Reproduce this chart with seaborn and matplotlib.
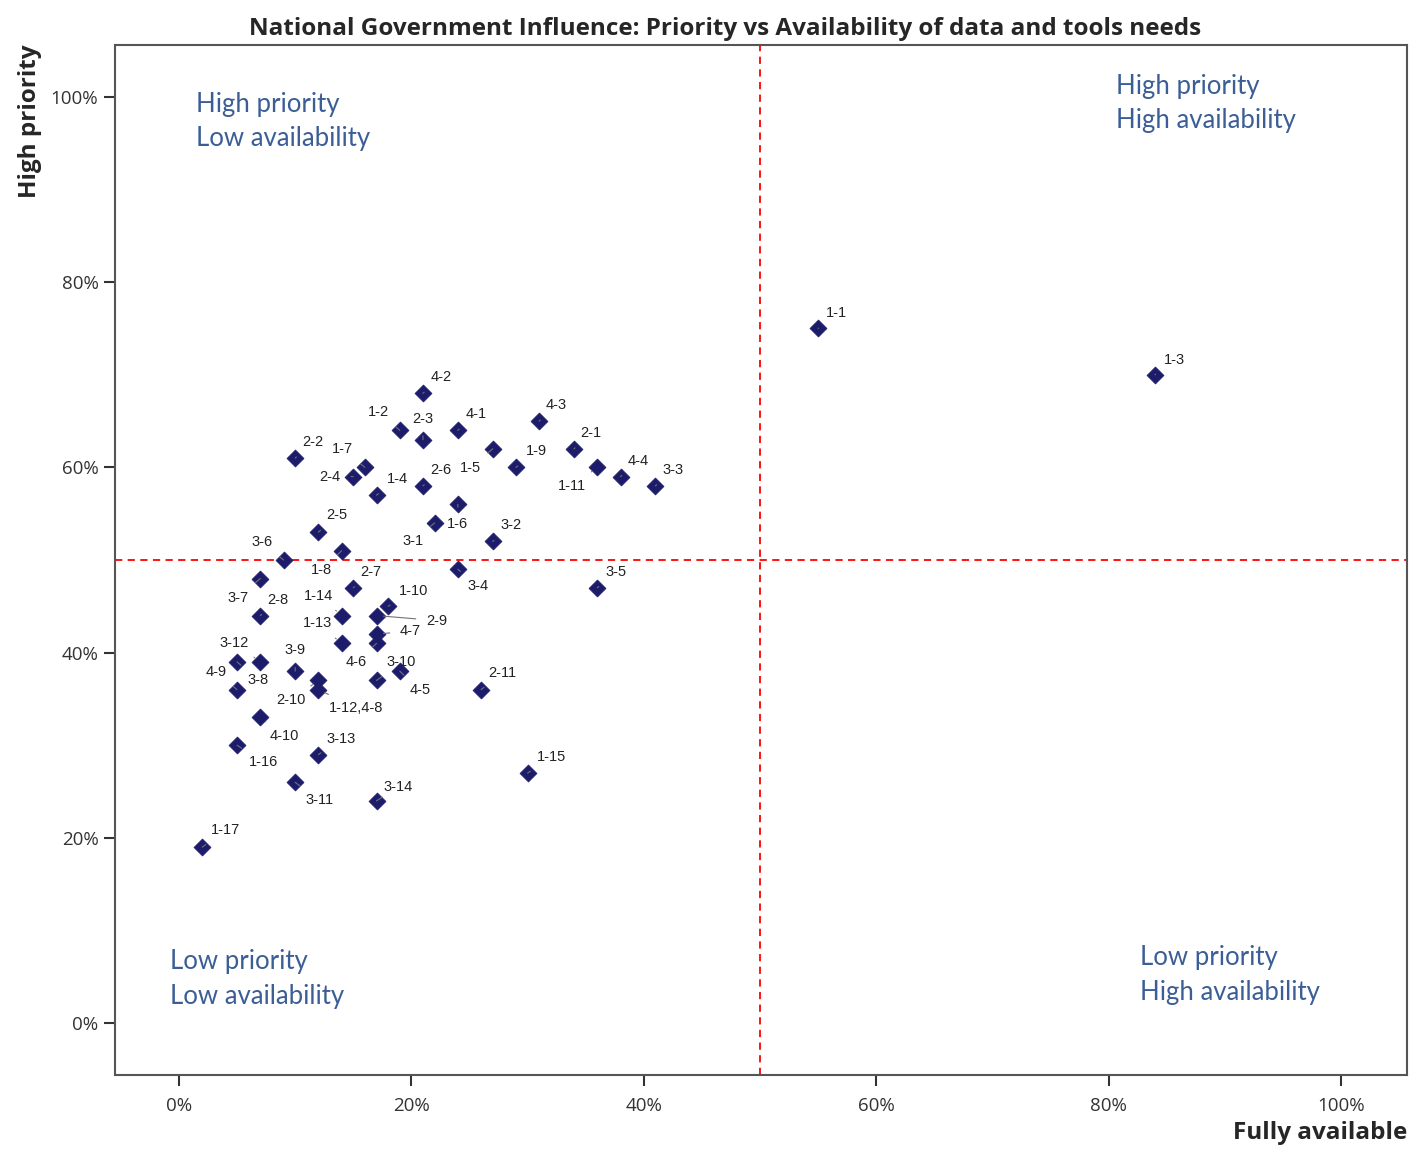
import numpy as np
import pandas as pd
import matplotlib
matplotlib.use("Agg")
import matplotlib.pyplot as plt
import seaborn as sns

# data (percent)
labels = ["1-1", "1-3", "4-2", "1-2", "2-3", "4-1", "4-3", "2-1", "1-5", "1-9",
          "1-11", "4-4", "3-3", "2-2", "1-7", "2-4", "1-4", "2-6", "1-6", "3-1",
          "3-2", "2-5", "1-8", "3-6", "3-4", "3-5", "3-7", "2-7", "1-10", "2-8",
          "1-14", "2-9", "4-7", "4-6", "1-13", "3-12", "3-8", "4-9", "3-9", "2-10",
          "1-12,4-8", "3-10", "4-5", "2-11", "4-10", "1-16", "3-13", "3-11", "3-14", "1-15",
          "1-17"]
availability = [55, 84, 21, 19, 21, 24, 31, 34, 27, 29,
                36, 38, 41, 10, 16, 15, 17, 21, 24, 22,
                27, 12, 14, 9, 24, 36, 7, 15, 18, 7,
                14, 17, 17, 17, 14, 7, 5, 5, 10, 12,
                12, 17, 19, 26, 7, 5, 12, 10, 17, 30,
                2]
priority = [75, 70, 68, 64, 63, 64, 65, 62, 62, 60,
            60, 59, 58, 61, 60, 59, 57, 58, 56, 54,
            52, 53, 51, 50, 49, 47, 48, 47, 45, 44,
            44, 44, 42, 41, 41, 39, 39, 36, 38, 37,
            36, 37, 38, 36, 33, 30, 29, 26, 24, 27,
            19]

quadrant_text = [("High priority", "Low availability"),
                 ("High priority", "High availability"),
                 ("Low priority", "Low availability"),
                 ("Low priority", "High availability")]

# label offsets in pixels (dx right, dy up)
label_offsets = {
    "1-1": (18, 15), "1-3": (19, 15), "4-2": (18, 16), "1-2": (-21, 18),
    "2-3": (0, 21), "4-1": (18, 16), "4-3": (17, 16), "2-1": (17, 16),
    "1-5": (-22, -19), "1-9": (20, 16), "1-11": (-25, -19), "4-4": (18, 16),
    "3-3": (18, 16), "2-2": (18, 16), "1-7": (-22, 18), "2-4": (-23, 0),
    "1-4": (21, 16), "2-6": (18, 16), "1-6": (0, -20), "3-1": (-22, -18),
    "3-2": (18, 16), "2-5": (18, 17), "1-8": (-20, -19), "3-6": (-22, 18),
    "3-4": (20, -17), "3-5": (19, 16), "3-7": (-22, -19), "2-7": (18, 16),
    "1-10": (25, 15), "2-8": (18, 16), "1-14": (-23, 20), "2-9": (60, -5),
    "4-7": (34, 3), "4-6": (-20, -19), "1-13": (-24, 20), "3-12": (-26, 19),
    "3-8": (21, -18), "4-9": (-21, 18), "3-9": (0, 21), "2-10": (-27, -20),
    "1-12,4-8": (38, -18), "3-10": (25, 18), "4-5": (20, -19), "2-11": (21, 17),
    "4-10": (24, -19), "1-16": (26, -17), "3-13": (23, 16), "3-11": (24, -18),
    "3-14": (22, 14), "1-15": (24, 16), "1-17": (23, 17),
}

df = pd.DataFrame({"label": labels, "availability": availability, "priority": priority})

sns.set_theme(style="ticks")
plt.rcParams["font.family"] = ["Open Sans", "DejaVu Sans"]

fig = plt.figure(figsize=(14.1, 11.52), dpi=100)
ax = fig.add_axes([0.0816, 0.0668, 0.9164, 0.8942])

sns.scatterplot(data=df, x="availability", y="priority", marker="D", s=75,
                color="#1c1c6b", edgecolor="#1c1c6b", linewidth=0.5, ax=ax, zorder=3)

for lab, xv, yv in zip(labels, availability, priority):
    dx, dy = label_offsets[lab]
    ax.annotate(lab, (xv, yv), xytext=(dx, dy), textcoords="offset pixels",
                ha="center", va="center", fontsize=10.5, color="#222222",
                family=["Liberation Sans", "DejaVu Sans"],
                arrowprops=dict(arrowstyle="-", color="0.45", lw=0.8,
                                shrinkA=5, shrinkB=5))

ax.axvline(50, color="red", ls=(0, (4, 3)), lw=1.3, zorder=1)
ax.axhline(50, color="red", ls=(0, (4, 3)), lw=1.3, zorder=1)

# quadrant captions
quad_pos = [(1.5, 99.2, 95.5), (80.6, 101.1, 97.4), (-0.8, 6.7, 2.9), (82.7, 7.1, 3.3)]
for (l1, l2), (qx, qy1, qy2) in zip(quadrant_text, quad_pos):
    for txt, qy in ((l1, qy1), (l2, qy2)):
        ax.text(qx, qy, txt, ha="left", va="center", fontsize=18.5,
                color="#3b5e96", family=["Lato", "DejaVu Sans"])

ax.set_xlim(-5.5, 105.7)
ax.set_ylim(-5.6, 105.6)
ticks = [0, 20, 40, 60, 80, 100]
ax.set_xticks(ticks)
ax.set_yticks(ticks)
ax.set_xticklabels([f"{t}%" for t in ticks])
ax.set_yticklabels([f"{t}%" for t in ticks])
ax.tick_params(axis="both", labelsize=13.5, colors="#333333", length=8, width=1.5,
               direction="out", pad=4)
ax.tick_params(axis="x", pad=8)
for sp in ax.spines.values():
    sp.set_visible(True)
    sp.set_color("#555555")
    sp.set_linewidth(1.5)

ax.set_xlabel("Fully available", fontsize=17.5, fontweight="bold", loc="right", labelpad=4)
ax.set_ylabel("High priority", fontsize=17.5, fontweight="bold", loc="top", labelpad=6)
ax.set_title("National Government Influence: Priority vs Availability of data and tools needs",
             fontsize=17.5, fontweight="bold", pad=7, x=0.472)

fig.savefig("out.png", dpi=100, facecolor="white")
